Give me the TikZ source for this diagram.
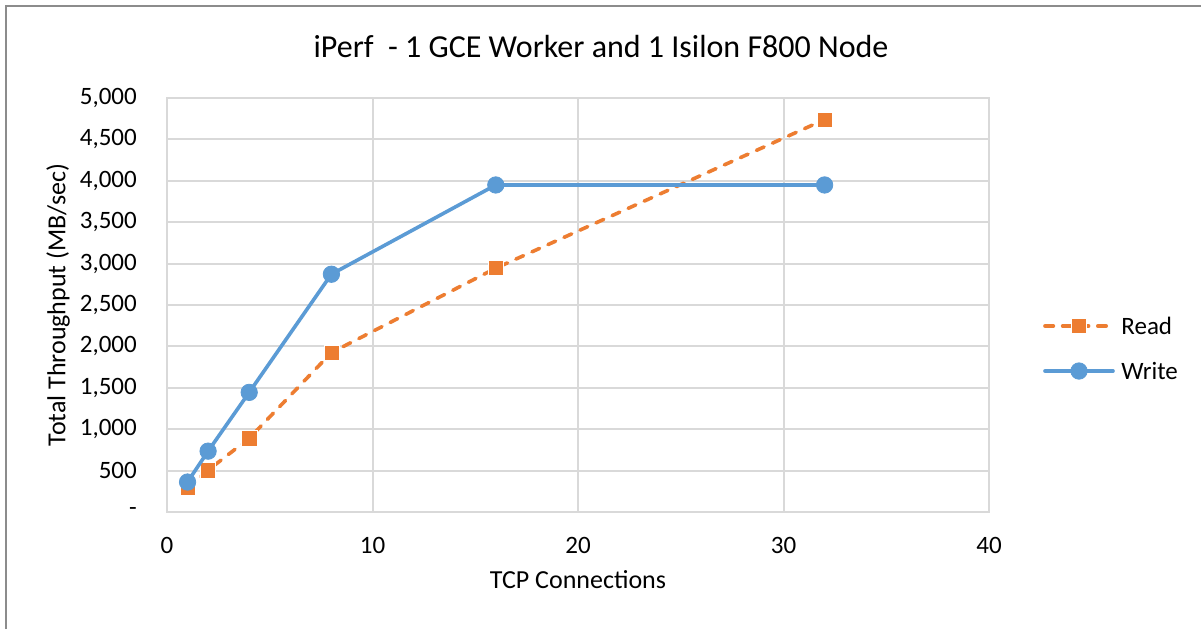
\documentclass[tikz,border=0pt]{standalone}
\usepackage{fontspec}
\setmainfont{Carlito}
\definecolor{readc}{HTML}{ED7D31}
\definecolor{writec}{HTML}{5B9BD5}
\definecolor{gridc}{HTML}{D9D9D9}
\definecolor{framec}{HTML}{8C8C8C}
\begin{document}
\begin{tikzpicture}[x=0.5pt, y=-0.5pt,
    gridline/.style={draw=gridc, line width=1pt},
    ticklbl/.style={font=\fontsize{12.5}{14}\selectfont, inner sep=0pt},
    readline/.style={draw=readc, line width=1.8pt, line cap=round, dash pattern=on 4.2pt off 4.6pt},
    writeline/.style={draw=writec, line width=1.8pt, line cap=round},
    readmark/.style={rectangle, fill=readc, draw=white, line width=0.3pt, minimum size=7.6pt, inner sep=0pt},
    writemark/.style={circle, fill=writec, draw=writec, minimum size=8.2pt, inner sep=0pt}]
    \useasboundingbox (0,0) rectangle (1201,629);
    \fill[white] (0,0) rectangle (1201,629);
    \draw[framec, line width=1pt] (6,629) -- (6,6) -- (1201,6);

    \node[font=\fontsize{16}{19}\selectfont] (title) at (601,46) {iPerf\ \ - 1 GCE Worker and 1 Isilon F800 Node};

    \begin{scope}[shift={(167,512)}, x=10.275pt, y=0.0414pt]
        % grid
        \foreach \v in {500,1000,...,5000}
            \draw[gridline] (0,\v) -- (40,\v);
        \foreach \u in {10,20,30}
            \draw[gridline] (\u,0) -- (\u,5000);
        \draw[gridline] (0,0) rectangle (40,5000);

        % ticks
        \node[ticklbl, anchor=east] at (-1.45,0) {-};
        \foreach \v/\t in {500/500,1000/{1,000},1500/{1,500},2000/{2,000},2500/{2,500},3000/{3,000},3500/{3,500},4000/{4,000},4500/{4,500},5000/{5,000}}
            \node[ticklbl, anchor=east] at (-1.45,\v) {\t};
        \foreach \u in {0,10,20,30,40}
            \node[ticklbl] at (\u,-400) {\u};

        % data
        \foreach \n/\X/\Y in {1/1/290,2/2/505,3/4/890,4/8/1925,5/16/2945,6/32/4740}
            \coordinate (r\n) at (\X,\Y);
        \foreach \n/\X/\Y in {1/1/362,2/2/735,3/4/1445,4/8/2872,5/16/3950,6/32/3950}
            \coordinate (w\n) at (\X,\Y);
        \draw[readline] (r1) -- (r2) -- (r3) -- (r4) -- (r5) -- (r6);
        \foreach \n in {1,...,6}
            \node[readmark] at (r\n) {};
        \draw[writeline] (w1) -- (w2) -- (w3) -- (w4) -- (w5) -- (w6);
        \foreach \n in {1,...,6}
            \node[writemark] at (w\n) {};
    \end{scope}

    % axis titles
    \node[font=\fontsize{13}{15}\selectfont, rotate=90] (ytitle) at (58,305) {Total Throughput (MB/sec)};
    \node[font=\fontsize{13}{15}\selectfont] (xtitle) at (578,580) {TCP Connections};

    % legend
    \coordinate (rl0) at (1045,326);
    \coordinate (rl1) at (1113,326);
    \draw[readline] (rl0) -- (rl1);
    \node[readmark] (rkey) at (1079,326) {};
    \node[ticklbl, anchor=west] (rtxt) at (1121,326) {Read};
    \coordinate (wl0) at (1045,371);
    \coordinate (wl1) at (1113,371);
    \draw[writeline] (wl0) -- (wl1);
    \node[writemark] (wkey) at (1079,371) {};
    \node[ticklbl, anchor=west] (wtxt) at (1121,371) {Write};
\end{tikzpicture}
\end{document}
